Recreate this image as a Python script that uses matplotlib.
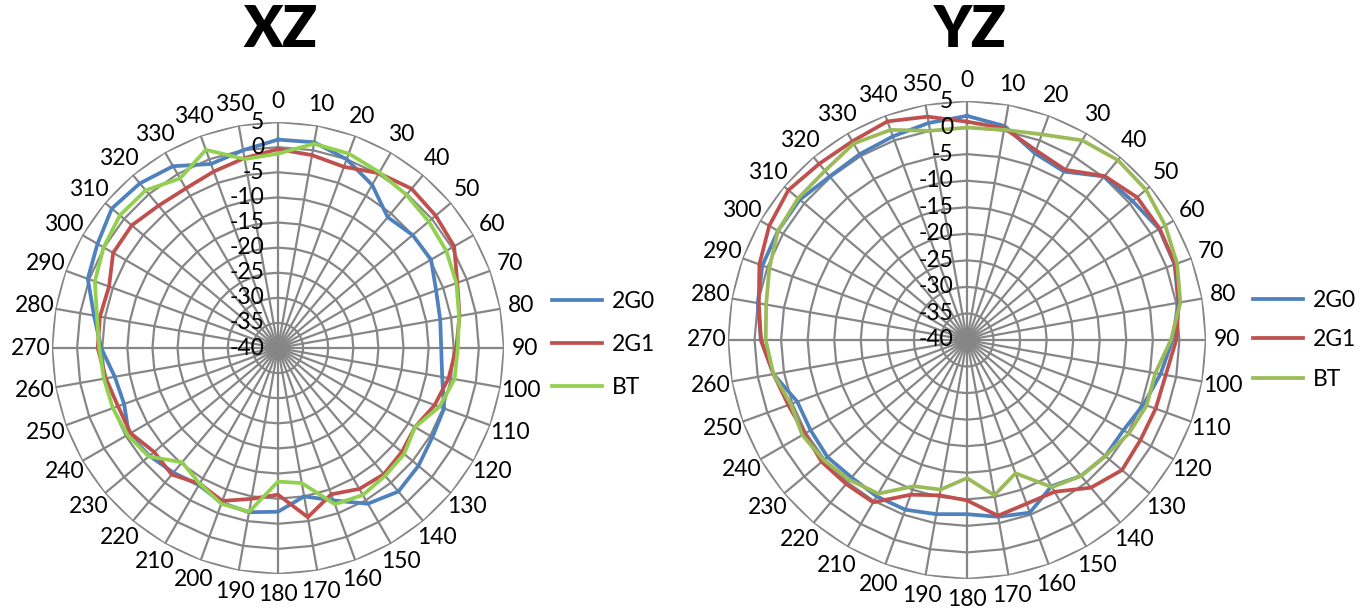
import numpy as np
import matplotlib.pyplot as plt

# angles (deg, clockwise from top) and radial scale of the Excel radar charts
angles_deg = list(range(0, 360, 10))
theta_labels = [str(a) for a in angles_deg]
r_ticks = [5, 0, -5, -10, -15, -20, -25, -30, -35, -40]
series_names = ['2G0', '2G1', 'BT']

# XZ plane (dB)
xz_2g0 = [1.5, 1.6, 0.0, -2.5, -6.0, -5.0, -4.8, -6.5, -7.2, -7.5, -6.8, -4.8,
          -4.5, -3.5, -2.7, -4.2, -7.7, -10.0, -7.4, -6.8, -7.2, -8.5, -7.6, -6.6,
          -5.7, -7.4, -7.0, -4.8, -2.8, 0.3, 1.5, 3.2, 2.8, 1.8, -1.0, 0.0]
xz_2g1 = [-0.4, -1.0, -1.6, 0.2, 1.4, 1.0, 0.5, -2.0, -3.3, -4.5, -5.5, -6.8,
          -8.5, -7.8, -7.2, -7.6, -9.0, -5.8, -10.8, -9.5, -7.6, -8.8, -7.1, -7.8,
          -6.1, -6.1, -5.2, -4.1, -4.0, -4.2, -2.1, -2.0, -3.0, -3.3, -2.6, -1.6]
xz_bt = [-1.3, 1.3, 1.2, 0.4, -0.2, -0.8, -1.3, -2.2, -3.4, -4.2, -4.3, -5.8,
         -8.5, -7.2, -6.8, -6.2, -6.9, -12.7, -13.4, -6.9, -7.0, -8.8, -10.3, -6.4,
         -5.4, -5.0, -4.8, -4.4, -3.4, -1.2, 0.1, 1.1, 1.0, -1.0, 2.0, -1.8]

# YZ plane (dB)
yz_2g0 = [2.2, 0.9, -2.6, -3.4, 0.2, 0.7, 1.8, 1.6, 0.4, -1.3, -3.0, -4.6,
          -6.0, -6.0, -6.6, -8.2, -5.4, -6.2, -7.2, -6.7, -6.0, -6.0, -6.2, -5.7,
          -6.0, -6.0, -3.0, -1.2, 0.0, 1.0, 1.1, 1.1, 0.2, 0.4, 0.8, 1.5]
yz_2g1 = [1.1, 0.5, -2.0, -3.0, 0.3, 1.8, 1.9, 1.7, 0.5, -0.6, -2.0, -2.2,
          -2.3, -1.9, -3.7, -7.0, -7.2, -6.4, -9.8, -10.3, -9.0, -4.7, -4.6, -4.3,
          -4.7, -4.2, -3.0, -1.2, -0.2, 1.6, 3.0, 3.9, 3.3, 3.2, 3.8, 2.7]
yz_bt = [0.0, 0.2, 1.2, 3.4, 4.2, 4.0, 3.1, 2.1, 0.8, -1.6, -4.0, -4.0,
         -4.8, -6.0, -6.6, -8.0, -13.3, -10.3, -14.0, -11.4, -10.7, -6.6, -5.6, -4.8,
         -4.2, -4.7, -3.0, -2.1, -1.6, -0.4, 1.1, 1.5, 1.6, 2.7, 2.1, 0.0]

plt.rcParams['font.family'] = ['Lato', 'DejaVu Sans']

grid_color = '#868686'
fs = 16.5


def radar(ax, data, colors, legend_xy, label_spacing):
    theta = np.deg2rad(angles_deg + [angles_deg[0]])
    ax.set_theta_zero_location('N')
    ax.set_theta_direction(-1)
    ax.set_ylim(-40, 5)
    ax.grid(False)
    ax.spines['polar'].set_visible(False)
    ax.set_yticks([])
    ax.set_xticks(np.deg2rad(angles_deg))
    ax.set_xticklabels(theta_labels, fontsize=fs)
    ax.tick_params(axis='x', length=0, pad=8)

    # polygon rings and spokes (Excel style)
    for v in r_ticks[:-1]:
        ax.plot(theta, [v] * len(theta), color=grid_color, lw=1.6, zorder=1)
    for a in np.deg2rad(angles_deg):
        ax.plot([a, a], [-40, 5], color=grid_color, lw=1.6, zorder=1)

    handles = []
    for vals, col, name in zip(data, colors, series_names):
        h, = ax.plot(theta, vals + [vals[0]], color=col, lw=2.7, label=name, zorder=3)
        handles.append(h)

    for v in r_ticks:
        ax.annotate(str(v), xy=(0, v), xytext=(-10, 0), textcoords='offset points',
                    ha='right', va='center', fontsize=fs, zorder=5)

    ax.legend(handles=handles, loc='center left', bbox_to_anchor=legend_xy,
              bbox_transform=ax.figure.transFigure, frameon=False, fontsize=fs,
              handlelength=2.2, handletextpad=0.4, labelspacing=label_spacing,
              borderpad=0, borderaxespad=0)


fig = plt.figure(figsize=(13.61, 6.08), dpi=100)
fig.patch.set_facecolor('white')

ax1 = fig.add_axes([0.0382, 0.0559, 0.3321, 0.7434], projection='polar')
radar(ax1, [xz_2g0, xz_2g1, xz_bt], ['#4F81BD', '#C0504D', '#92D050'],
      (0.4056, 0.433), 0.95)

ax2 = fig.add_axes([0.5349, 0.0477, 0.3512, 0.7862], projection='polar')
radar(ax2, [yz_2g0, yz_2g1, yz_bt], ['#4F81BD', '#C0504D', '#9BBB59'],
      (0.9207, 0.441), 0.8)

fig.text(280 / 1361, 1 - 30 / 608, 'XZ', ha='center', va='center',
         fontsize=41, fontweight='heavy')
fig.text(970 / 1361, 1 - 30 / 608, 'YZ', ha='center', va='center',
         fontsize=41, fontweight='heavy')

fig.savefig('out.png', dpi=100, facecolor='white')
